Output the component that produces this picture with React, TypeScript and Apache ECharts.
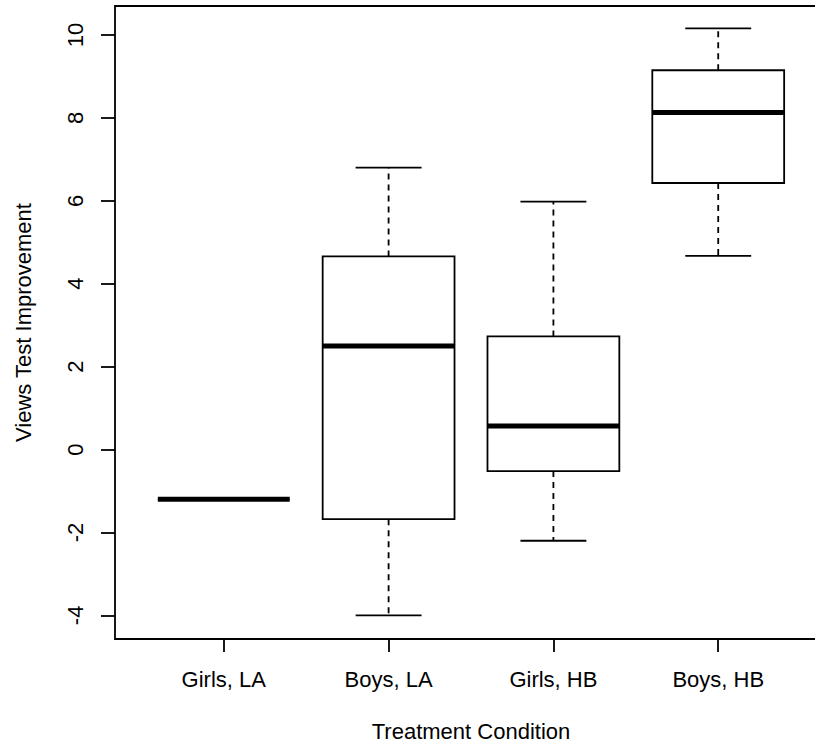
import React, { useEffect, useRef } from "react";
import * as echarts from "echarts";

const categories = ["Girls, LA", "Boys, LA", "Girls, HB", "Boys, HB"];
const lowerWhisker = [-1.2, -4.0, -2.2, 4.67];
const lowerQuartile = [-1.2, -1.68, -0.52, 6.43];
const medianValues = [-1.2, 2.5, 0.57, 8.13];
const upperQuartile = [-1.2, 4.66, 2.73, 9.15];
const upperWhisker = [-1.2, 6.8, 5.98, 10.16];
const yTicks = [-4, -2, 0, 2, 4, 6, 8, 10];
const xPositions = categories.map((_, i) => i + 1);

const FONT = "'Liberation Sans', Arial, sans-serif";
const FS = 22;

export default function App() {
  const ref = useRef<HTMLDivElement>(null);
  useEffect(() => {
    if (!ref.current) return;
    const chart = echarts.init(ref.current, null, { renderer: "svg" });
    const data = categories.map((_, i) => [
      xPositions[i],
      lowerWhisker[i],
      lowerQuartile[i],
      medianValues[i],
      upperQuartile[i],
      upperWhisker[i],
    ]);
    const option = {
      animation: false,
      backgroundColor: "#fff",
      grid: {
        left: 115,
        top: 6,
        width: 712,
        height: 633,
        outerBoundsMode: "none",
        containLabel: false,
        show: true,
        borderColor: "#000",
        borderWidth: 1.8,
        backgroundColor: "transparent",
      },
      xAxis: {
        type: "value",
        min: 0.34,
        max: 4.66,
        name: "Treatment Condition",
        nameLocation: "middle",
        nameGap: 81,
        nameTextStyle: { fontSize: FS, color: "#000", fontFamily: FONT },
        axisLine: { show: false, onZero: false },
        splitLine: { show: false },
        axisTick: {
          show: true,
          customValues: xPositions,
          length: 13,
          lineStyle: { color: "#000", width: 1.8 },
        },
        axisLabel: {
          customValues: xPositions,
          margin: 29,
          fontSize: FS,
          color: "#000",
          fontFamily: FONT,
          formatter: (v: number) => categories[Math.round(v) - 1] ?? "",
        },
      },
      yAxis: {
        type: "value",
        min: -4.57,
        max: 10.7,
        name: "Views Test Improvement",
        nameLocation: "middle",
        nameRotate: 90,
        nameGap: 81,
        nameTextStyle: { fontSize: FS, color: "#000", fontFamily: FONT },
        axisLine: { show: false, onZero: false },
        splitLine: { show: false },
        axisTick: {
          show: true,
          customValues: yTicks,
          length: 14,
          lineStyle: { color: "#000", width: 1.8 },
        },
        axisLabel: {
          customValues: yTicks,
          rotate: 90,
          margin: 29,
          fontSize: FS,
          color: "#000",
          fontFamily: FONT,
        },
      },
      series: [
        {
          type: "custom",
          data,
          encode: { x: 0, y: [1, 2, 3, 4, 5] },
          renderItem: (params: any, api: any) => {
            const x = api.value(0);
            const lo = api.coord([x, api.value(1)]);
            const q1 = api.coord([x, api.value(2)]);
            const med = api.coord([x, api.value(3)]);
            const q3 = api.coord([x, api.value(4)]);
            const hi = api.coord([x, api.value(5)]);
            const cx = lo[0];
            const halfW = api.size([0.8, 0])[0] / 2;
            const capW = halfW / 2;
            const stroke = { stroke: "#000", lineWidth: 1.8, fill: null };
            const dashed = { stroke: "#000", lineWidth: 1.8, lineDash: [6, 5] };
            const children: any[] = [];
            if (Math.abs(hi[1] - q3[1]) > 0.5) {
              children.push({
                type: "line",
                shape: { x1: cx, y1: q3[1], x2: cx, y2: hi[1] },
                style: dashed,
              });
            }
            if (Math.abs(lo[1] - q1[1]) > 0.5) {
              children.push({
                type: "line",
                shape: { x1: cx, y1: q1[1], x2: cx, y2: lo[1] },
                style: dashed,
              });
            }
            children.push({
              type: "line",
              shape: { x1: cx - capW, y1: hi[1], x2: cx + capW, y2: hi[1] },
              style: stroke,
            });
            children.push({
              type: "line",
              shape: { x1: cx - capW, y1: lo[1], x2: cx + capW, y2: lo[1] },
              style: stroke,
            });
            children.push({
              type: "rect",
              shape: {
                x: cx - halfW,
                y: q3[1],
                width: 2 * halfW,
                height: q1[1] - q3[1],
              },
              style: { stroke: "#000", lineWidth: 1.8, fill: "#fff" },
            });
            children.push({
              type: "line",
              shape: { x1: cx - halfW, y1: med[1], x2: cx + halfW, y2: med[1] },
              style: { stroke: "#000", lineWidth: 5 },
            });
            return { type: "group", children };
          },
        },
      ],
    };
    chart.setOption(option as any);
    return () => chart.dispose();
  }, []);
  return (
    <div
      ref={ref}
      style={{ position: "absolute", left: 0, top: 0, width: 815, height: 745 }}
    />
  );
}
